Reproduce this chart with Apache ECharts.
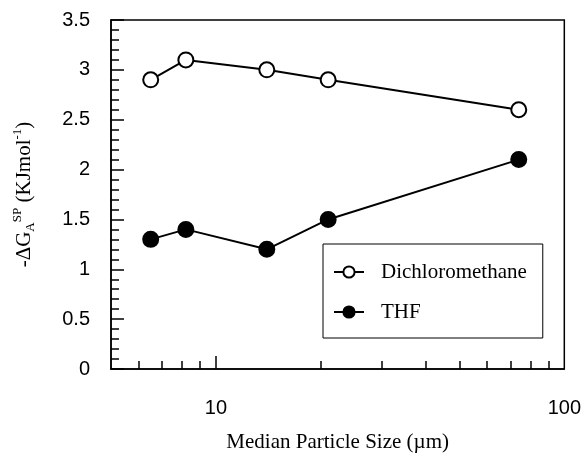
<!DOCTYPE html>
<html>
<head>
<meta charset="utf-8">
<script src="https://cdn.jsdelivr.net/npm/echarts@6/dist/echarts.min.js"></script>
<style>
html, body { margin: 0; padding: 0; background: #fff; }
#main { width: 584px; height: 458px; }
</style>
</head>
<body>
<div id="main"></div>
<script>
// values
const particleSize = [6.5, 8.2, 14, 21, 74];
const dichloromethane = [2.9, 3.1, 3.0, 2.9, 2.6];
const thf = [1.3, 1.4, 1.2, 1.5, 2.1];
const xMajorTicks = [10];
const xMinorTicks = [6, 7, 8, 9, 20, 30, 40, 50, 60, 70, 80, 90];
const xTickLabels = [10, 100];

const serif = 'Liberation Serif';
const sans = 'Liberation Sans';

function pairs(ys) {
    return particleSize.map((x, i) => [x, ys[i]]);
}

const chart = echarts.init(document.getElementById('main'));
chart.setOption({
    animation: false,
    grid: {
        left: 111, right: 19, top: 20, bottom: 85,
        show: true,
        borderColor: '#000',
        borderWidth: 1.5
    },
    legend: {
        orient: 'vertical',
        left: 323,
        top: 244,
        padding: [16, 16, 14, 10],
        itemGap: 16,
        itemWidth: 30,
        itemHeight: 14,
        borderColor: '#000',
        borderWidth: 1,
        selectedMode: false,
        textStyle: {
            fontFamily: serif,
            fontSize: 21,
            color: '#000',
            lineHeight: 24,
            padding: [0, 0, 0, 12]
        },
        data: ['Dichloromethane', 'THF']
    },
    xAxis: [
        {
            type: 'log',
            logBase: 10,
            min: 5,
            max: 100,
            name: 'Median Particle Size (µm)',
            nameLocation: 'middle',
            nameGap: 63,
            nameTextStyle: { fontFamily: serif, fontSize: 21, color: '#000' },
            axisLine: { show: true, lineStyle: { color: '#000', width: 1.5 } },
            axisTick: {
                show: true, inside: true, length: 13,
                customValues: xMajorTicks,
                lineStyle: { color: '#000', width: 1.5 }
            },
            axisLabel: {
                customValues: xTickLabels,
                fontFamily: sans, fontSize: 20, color: '#000', margin: 29
            },
            splitLine: { show: false },
            minorTick: { show: false }
        },
        {
            type: 'log',
            logBase: 10,
            min: 5,
            max: 100,
            gridIndex: 0,
            position: 'bottom',
            axisLine: { show: false },
            axisTick: {
                show: true, inside: true, length: 8,
                customValues: xMinorTicks,
                lineStyle: { color: '#000', width: 1.5 }
            },
            axisLabel: { show: false },
            splitLine: { show: false }
        }
    ],
    yAxis: {
        type: 'value',
        min: 0,
        max: 3.5,
        interval: 0.5,
        name: '-ΔG{sub|A}{sup|SP} (KJmol{sup|-1})',
        nameLocation: 'middle',
        nameGap: 74,
        nameRotate: 90,
        nameTextStyle: {
            fontFamily: serif, fontSize: 21, color: '#000', lineHeight: 26,
            rich: {
                sub: { fontFamily: serif, fontSize: 13, color: '#000', verticalAlign: 'bottom' },
                sup: { fontFamily: serif, fontSize: 13, color: '#000', verticalAlign: 'top' }
            }
        },
        axisLine: { show: true, lineStyle: { color: '#000', width: 1.5 } },
        axisTick: { show: true, inside: true, length: 13, lineStyle: { color: '#000', width: 1.5 } },
        minorTick: { show: true, splitNumber: 5, length: 8, lineStyle: { color: '#000', width: 1.5 } },
        axisLabel: { fontFamily: sans, fontSize: 20, color: '#000', margin: 21 },
        splitLine: { show: false }
    },
    series: [
        {
            name: 'Dichloromethane',
            type: 'line',
            data: pairs(dichloromethane),
            symbol: 'circle',
            symbolSize: 15,
            lineStyle: { color: '#000', width: 2 },
            itemStyle: { color: '#fff', borderColor: '#000', borderWidth: 2 }
        },
        {
            name: 'THF',
            type: 'line',
            data: pairs(thf),
            symbol: 'circle',
            symbolSize: 15,
            lineStyle: { color: '#000', width: 2 },
            itemStyle: { color: '#000', borderColor: '#000', borderWidth: 2 }
        }
    ]
});
</script>
</body>
</html>
